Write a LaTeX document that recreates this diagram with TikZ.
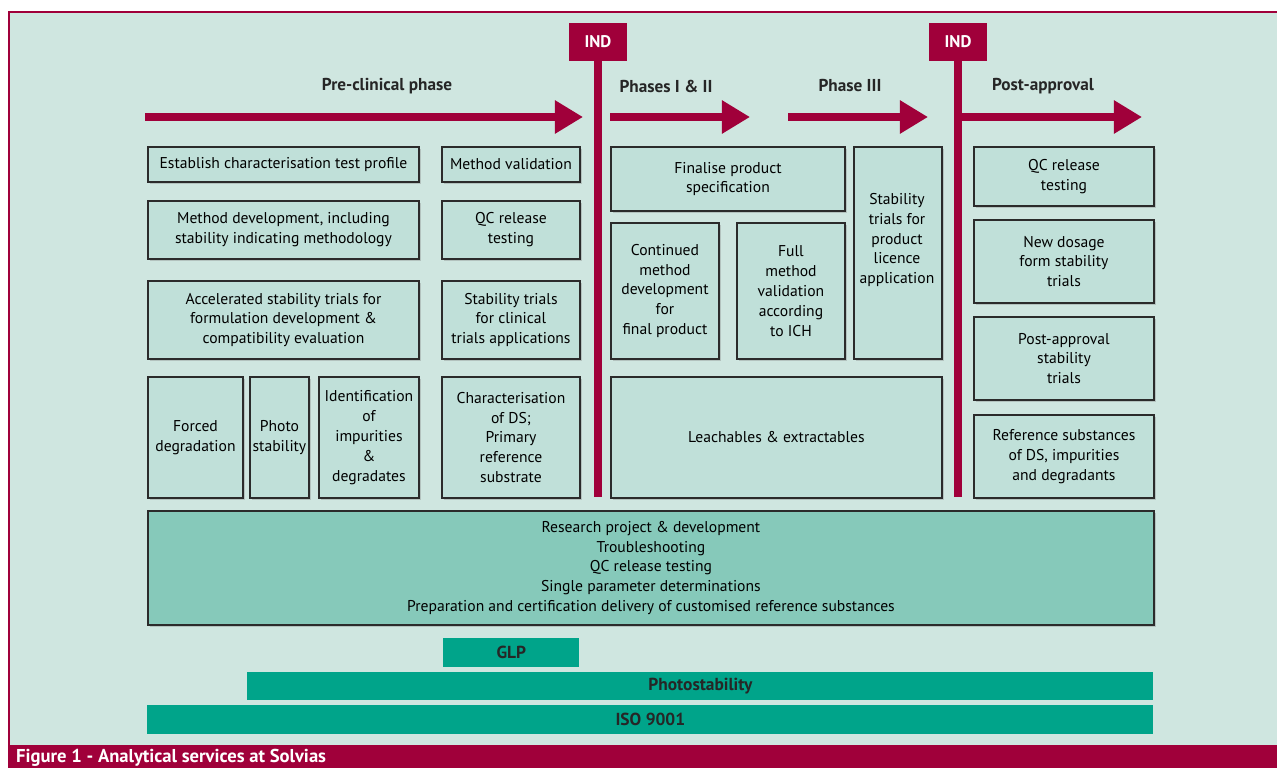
\documentclass[tikz,border=0pt]{standalone}
\usepackage{fontspec}
\setmainfont{PT Sans}
\usepackage{tikz}
\usetikzlibrary{arrows.meta, positioning, shadows}

\definecolor{crimson}{HTML}{A0003A}
\definecolor{mint}{HTML}{CFE6E0}
\definecolor{boxfill}{HTML}{C0E0D9}
\definecolor{bigfill}{HTML}{86C9BA}
\definecolor{barfill}{HTML}{00A48A}
\definecolor{boxline}{HTML}{2B2B2B}

\tikzstyle{phasearrow} = [-{Triangle[length=16pt, width=18pt]}, line width=4pt, crimson]
\tikzstyle{box} = [draw=boxline, line width=1.1pt, fill=boxfill, inner sep=0pt, align=center,
  anchor=north west, font=\fontsize{8.9}{11.3}\selectfont,
  drop shadow={shadow xshift=1.4pt, shadow yshift=-1.4pt, opacity=0.35}]
\tikzstyle{bar} = [fill=barfill, inner sep=0pt, anchor=north west,
  font=\bfseries\fontsize{9.9}{11}\selectfont, text=black!85]
\tikzstyle{ind} = [fill=crimson, text=white, font=\bfseries\fontsize{9.6}{11}\selectfont,
  minimum width=33pt, minimum height=21.5pt, inner sep=0pt]
\tikzstyle{phase} = [font=\bfseries\fontsize{9.8}{11}\selectfont, text=black!85]
\tikzset{sz/.style 2 args={minimum width=#1*0.02cm, minimum height=#2*0.02cm}}

\begin{document}
\begin{tikzpicture}[x=0.02cm, y=-0.02cm]
  \useasboundingbox (0,0) rectangle (1277,768);
  % frame
  \fill[white] (0,0) rectangle (1277,768);
  \fill[mint] (8,12) rectangle (1277,745);
  \draw[crimson, line width=1.2pt] (1277,12) -- (9,12) -- (9,745);
  \fill[crimson] (8,745) rectangle (1277,768);
  \node[anchor=west, text=white, font=\bfseries\fontsize{10.6}{12}\selectfont] (caption) at (10,758)
    {Figure 1 - Analytical services at Solvias};

  % IND milestones
  \node[ind] (ind1) at (598,42) {IND};
  \node[ind] (ind2) at (958,42) {IND};
  \draw[crimson, line width=4.5pt] (ind1.south) -- (ind1.south |- 0,497);
  \draw[crimson, line width=4.5pt] (ind2.south) -- (ind2.south |- 0,497);

  % phases
  \node[phase] (pre) at (387,86) {Pre-clinical phase};
  \node[phase] (ph12) at (666,86) {Phases I \& II};
  \node[phase] (ph3) at (850,86) {Phase III};
  \node[phase] (post) at (1043,86) {Post-approval};
  \draw[phasearrow] (145,117) -- (583,117);
  \draw[phasearrow] (610,117) -- (750,117);
  \draw[phasearrow] (788,117) -- (928,117);
  \draw[phasearrow] (962,117) -- (1142,117);

  % pre-clinical
  \node[box, sz={271}{35}] (estab) at (147,146) {Establish characterisation test profile};
  \node[box, sz={138}{35}] (mval) at (441,146) {Method validation};
  \node[box, sz={271}{58}] (mdev) at (147,200) {Method development, including\\stability indicating methodology};
  \node[box, sz={138}{58}] (qc1) at (441,200) {QC release\\testing};
  \node[box, sz={271}{78}] (accel) at (147,280) {Accelerated stability trials for\\formulation development \&\\compatibility evaluation};
  \node[box, sz={138}{78}] (stabct) at (441,280) {Stability trials\\for clinical\\trials applications};
  \node[box, sz={95}{121}] (forced) at (147,376) {Forced\\degradation};
  \node[box, sz={59}{121}] (photo) at (249,376) {Photo\\stability};
  \node[box, sz={100}{121}] (ident) at (318,376) {Identification\\of\\impurities\\\&\\degradates};
  \node[box, sz={138}{121}] (chards) at (441,376) {Characterisation\\of DS;\\Primary\\reference\\substrate};

  % phases I to III
  \node[box, sz={234}{64}] (final) at (610,146) {Finalise product\\specification};
  \node[box, sz={108}{136}] (contdev) at (610,222) {Continued\\method\\development\\for\\final product};
  \node[box, sz={108}{136}] (fullval) at (736,222) {Full\\method\\validation\\according\\to ICH};
  \node[box, sz={88}{212}] (licence) at (853,146) {};
  \node[font=\fontsize{8.9}{11.3}\selectfont, align=center] (licencetxt) at (897,240)
    {Stability\\trials for\\product\\licence\\application};
  \node[box, sz={331}{121}] (leach) at (610,376) {Leachables \& extractables};

  % post-approval
  \node[box, sz={180}{59}] (qc2) at (973,146) {QC release\\testing};
  \node[box, sz={180}{83}] (dosage) at (973,219) {New dosage\\form stability\\trials};
  \node[box, sz={180}{83}] (poststab) at (973,316) {Post-approval\\stability\\trials};
  \node[box, sz={180}{83}] (refsub) at (973,414) {Reference substances\\of DS, impurities\\and degradants};

  % services
  \node[box, fill=bigfill, sz={1006}{114}] (services) at (147,510)
    {Research project \& development\\Troubleshooting\\QC release testing\\Single parameter determinations\\Preparation and certification delivery of customised reference substances};

  % quality standards
  \node[bar, sz={136}{29}] (glp) at (443,638) {GLP};
  \node[bar, sz={906}{28}] (photost) at (247,672) {Photostability};
  \node[bar, sz={1006}{29}] (iso) at (147,705) {ISO 9001};
\end{tikzpicture}
\end{document}
